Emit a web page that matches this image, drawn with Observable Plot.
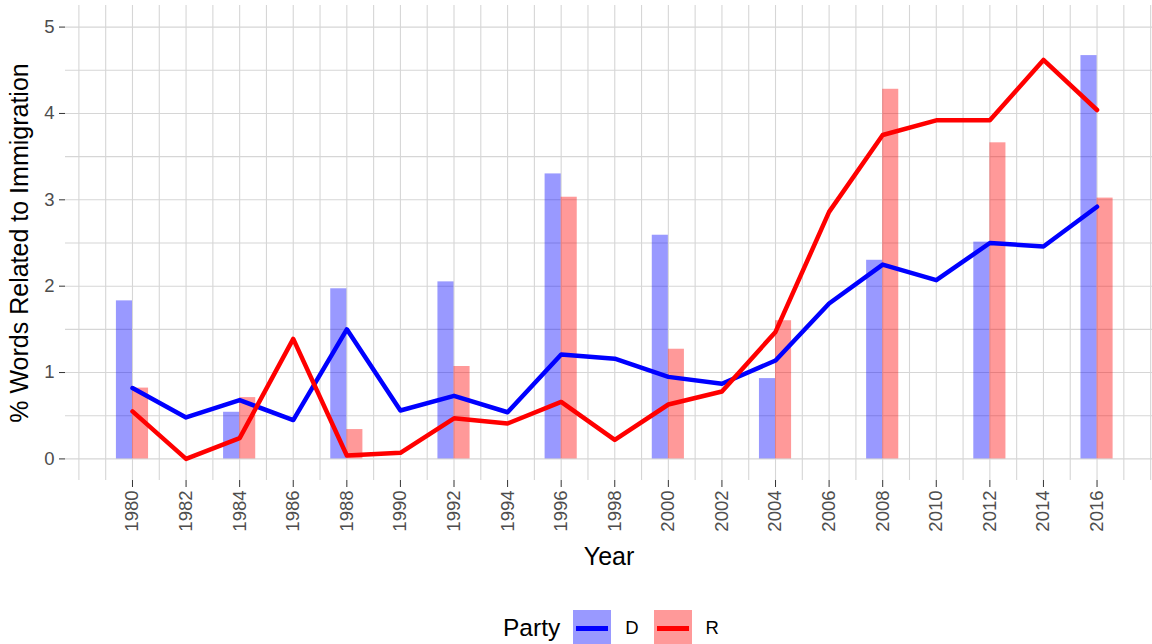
<!DOCTYPE html>
<html>
<head>
<meta charset="utf-8">
<script src="https://cdn.jsdelivr.net/npm/d3@7"></script>
<script src="https://cdn.jsdelivr.net/npm/@observablehq/plot@0.6"></script>
<style>
  html, body { margin: 0; padding: 0; background: #fff; }
  #wrap { position: relative; width: 1152px; height: 644px; overflow: hidden; font-family: "Liberation Sans", Arial, sans-serif; }
  g[aria-label="x-axis label"], g[aria-label="y-axis label"] { font-size: 25px !important; fill: #000; }
  g[aria-label="x-axis label"] text, g[aria-label="y-axis label"] text { font-size: 25px !important; }
  g[aria-label="x-axis tick"], g[aria-label="y-axis tick"] { stroke: #333; }
  g[aria-label="x-axis tick label"], g[aria-label="y-axis tick label"] { fill: #4d4d4d; }
  #legend { position: absolute; left: 503px; top: 610px; display: flex; align-items: center; height: 36px; color: #000; }
  #legend .title { font-size: 24.5px; margin-right: 13px; }
  #legend .lab { font-size: 18.5px; margin: 0 15px 0 14px; }
  #legend .sw { width: 38px; height: 36px; position: relative; }
  #legend .sw i { position: absolute; left: 3px; right: 3px; top: 15.5px; height: 5px; }
</style>
</head>
<body>
<div id="wrap">
  <div id="chart"></div>
  <div id="legend"></div>
</div>
<script>
// ---- data ----
const lineYears = [1980,1982,1984,1986,1988,1990,1992,1994,1996,1998,2000,2002,2004,2006,2008,2010,2012,2014,2016];
const lineD = [0.82,0.48,0.68,0.45,1.50,0.56,0.73,0.54,1.21,1.16,0.95,0.87,1.14,1.80,2.25,2.07,2.50,2.46,2.92];
const lineR = [0.55,0.00,0.24,1.39,0.04,0.07,0.47,0.41,0.66,0.22,0.63,0.78,1.47,2.86,3.75,3.92,3.92,4.62,4.04];

const barYears = [1980,1984,1988,1992,1996,2000,2004,2008,2012,2016];
const barD = [1.83,0.54,1.97,2.05,3.30,2.59,0.93,2.30,2.51,4.67];
const barR = [0.82,0.71,0.34,1.07,3.03,1.27,1.60,4.28,3.66,3.02];

const parties = ["D", "R"];
const partyColors = ["blue", "red"];

const xTicks = lineYears;
const yTicks = [0,1,2,3,4,5];
const yGrid = [0,0.5,1,1.5,2,2.5,3,3.5,4,4.5,5];
const xGrid = [1978,1979,1980,1981,1982,1983,1984,1985,1986,1987,1988,1989,1990,1991,1992,1993,1994,1995,1996,1997,1998,1999,2000,2001,2002,2003,2004,2005,2006,2007,2008,2009,2010,2011,2012,2013,2014,2015,2016,2017,2018];

// ---- tables ----
const barWidth = 0.6;
const bars = barYears.flatMap((yr, i) => [
  {year: yr, party: "D", value: barD[i]},
  {year: yr, party: "R", value: barR[i]}
]);
const lines = lineYears.flatMap((yr, i) => [
  {year: yr, party: "D", value: lineD[i]},
  {year: yr, party: "R", value: lineR[i]}
]);
const colorOf = p => partyColors[parties.indexOf(p)];

const chart = Plot.plot({
  width: 1152,
  height: 580,
  marginLeft: 65,
  marginRight: 0,
  marginTop: 5,
  marginBottom: 100,
  style: {fontFamily: '"Liberation Sans", Arial, sans-serif', fontSize: "18px", background: "white", color: "#000"},
  x: {domain: [1977.5, 2018.07]},
  y: {domain: [-0.25, 5.25]},
  marks: [
    Plot.gridX(xGrid, {stroke: "#d6d6d6", strokeOpacity: 1, strokeWidth: 1.1}),
    Plot.gridY(yGrid, {stroke: "#d6d6d6", strokeOpacity: 1, strokeWidth: 1.1}),
    Plot.rectY(bars, {
      x1: d => d.party === "D" ? d.year - barWidth : d.year,
      x2: d => d.party === "D" ? d.year : d.year + barWidth,
      y: "value",
      fill: d => colorOf(d.party),
      fillOpacity: 0.4
    }),
    Plot.lineY(lines.filter(d => d.party === "D"), {x: "year", y: "value", stroke: colorOf("D"), strokeWidth: 4.5}),
    Plot.lineY(lines.filter(d => d.party === "R"), {x: "year", y: "value", stroke: colorOf("R"), strokeWidth: 4.5}),
    Plot.axisY({ticks: yTicks, tickFormat: d => String(d), tickSize: 6, tickPadding: 5, fontSize: 18.5,
      label: "% Words Related to Immigration", labelArrow: "none", labelAnchor: "center", labelOffset: 55}),
    Plot.axisX({ticks: xTicks, tickFormat: d => String(d), tickRotate: -90, tickSize: 7, tickPadding: 3, fontSize: 18.5,
      label: "Year", labelArrow: "none", labelAnchor: "center", labelOffset: 84})
  ]
});
document.getElementById("chart").appendChild(chart);

// legend
const legend = document.getElementById("legend");
const t = document.createElement("span");
t.className = "title"; t.textContent = "Party";
legend.appendChild(t);
parties.forEach((p, i) => {
  const sw = document.createElement("span");
  sw.className = "sw";
  sw.style.background = d3.color(colorOf(p)).copy({opacity: 0.4}).toString();
  const ln = document.createElement("i");
  ln.style.background = colorOf(p);
  sw.appendChild(ln);
  legend.appendChild(sw);
  const lab = document.createElement("span");
  lab.className = "lab"; lab.textContent = p;
  legend.appendChild(lab);
});
</script>
</body>
</html>
